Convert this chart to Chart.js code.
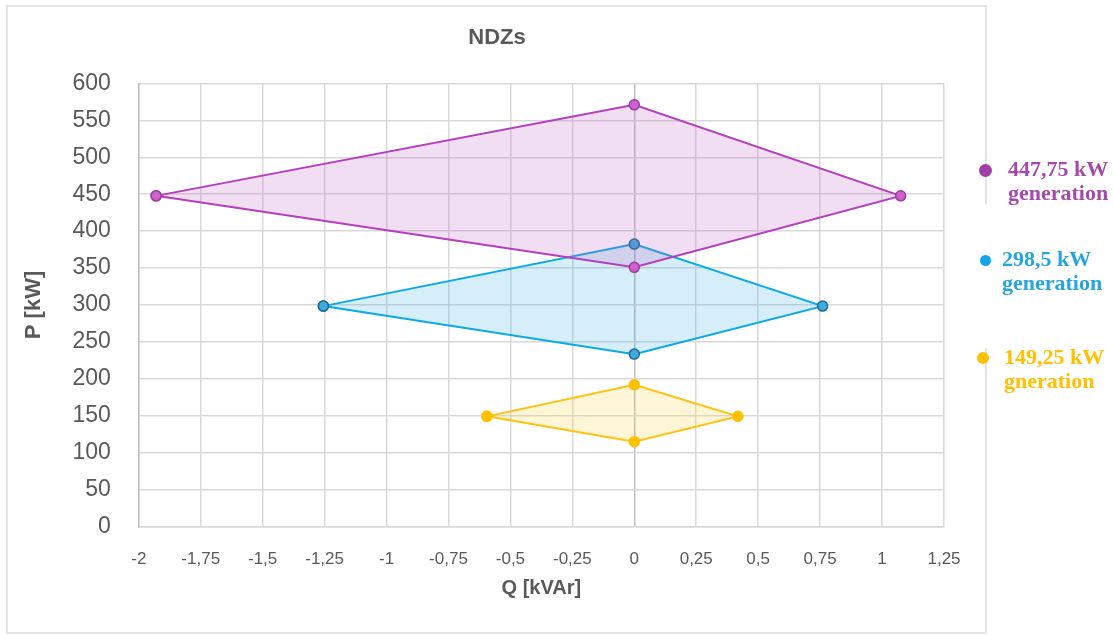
<!DOCTYPE html>
<html>
<head>
<meta charset="utf-8">
<script src="https://cdn.jsdelivr.net/npm/chart.js"></script>
<style>
  body { margin: 0; background: #fff; }
  #wrap { position: relative; width: 1114px; height: 635px; }
  #frame { position: absolute; left: 6px; top: 5px; width: 981px; height: 629px; box-sizing: border-box; border: 2px solid #E4E4E4; pointer-events: none; }
  #legend { position: absolute; left: 0; top: 0; width: 1114px; height: 635px; pointer-events: none; }
  .item { position: absolute; font-family: 'Liberation Serif', 'DejaVu Serif', serif; font-weight: bold; font-size: 22px; line-height: 24px; }
  .dot { position: absolute; border-radius: 50%; }
  #mask { position: absolute; left: 978px; top: 204px; width: 20px; height: 144px; background: #fff; }
</style>
</head>
<body>
<div id="wrap">
  <canvas id="myChart"></canvas>
  <div id="frame"></div>
  <div id="legend"><div id="mask"></div></div>
</div>
<script>
const scatterChart = document.getElementById('myChart');

// Q [kVAr] / P [kW] corners of each zone (left, top, right, bottom, back to left)
const qPurple = [-1.93, 0, 1.075, 0, -1.93];
const pPurple = [447.75, 571, 447.75, 351, 447.75];
const qBlue = [-1.255, 0, 0.76, 0, -1.255];
const pBlue = [298.5, 382.5, 298.5, 233.5, 298.5];
const qYellow = [-0.595, 0, 0.418, 0, -0.595];
const pYellow = [149.25, 192, 149.25, 115, 149.25];

const seriesNames = ['447,75 kW generation', '298,5 kW generation', '149,25 kW gneration'];
const qAxis = [-2, 1.25, 0.25];   // min, max, step
const pAxis = [0, 600, 50];

function toPoints(qs, ps) {
    var pts = [];
    for (var i = 0; i < qs.length; i++) {
        pts.push({ x: qs[i], y: ps[i] });
    }
    return pts;
}

function commaNum(v) {
    return String(Math.round(v * 100) / 100).replace('.', ',');
}

const grey = '#595959';

new Chart(scatterChart, {
    type: 'scatter',
    data: {
        datasets: [{
            label: seriesNames[0],
            data: toPoints(qPurple, pPurple),
            showLine: true,
            fill: 'shape',
            borderColor: '#B43EBE',
            backgroundColor: 'rgba(190, 90, 190, 0.2)',
            pointBackgroundColor: '#CC62CC',
            pointBorderColor: '#A03AA6',
            borderWidth: 2,
            pointRadius: 5,
            pointBorderWidth: 1.5
        }, {
            label: seriesNames[1],
            data: toPoints(qBlue, pBlue),
            showLine: true,
            fill: 'shape',
            borderColor: '#0AAAE8',
            backgroundColor: 'rgba(20, 160, 225, 0.18)',
            pointBackgroundColor: '#3FAADD',
            pointBorderColor: '#1E6890',
            borderWidth: 2,
            pointRadius: 5,
            pointBorderWidth: 1.5
        }, {
            label: seriesNames[2],
            data: toPoints(qYellow, pYellow),
            showLine: true,
            fill: 'shape',
            borderColor: '#FFC20E',
            backgroundColor: 'rgba(255, 195, 20, 0.17)',
            pointBackgroundColor: '#FFC000',
            pointBorderColor: '#FFC000',
            borderWidth: 2,
            pointRadius: 5,
            pointBorderWidth: 1.5
        }]
    },
    options: {
        responsive: true,
        maintainAspectRatio: false,
        animation: false,
        layout: {
            padding: { left: 50, right: 170, top: 12, bottom: 30 }
        },
        plugins: {
            legend: { display: false },
            tooltip: { enabled: false },
            title: {
                display: true,
                text: 'NDZs',
                color: grey,
                font: { family: 'Liberation Sans', size: 22, weight: 'bold' },
                padding: { top: 13, bottom: 32 }
            }
        },
        scales: {
            x: {
                type: 'linear',
                min: qAxis[0],
                max: qAxis[1],
                border: { color: '#D9D9D9', width: 1.5 },
                grid: {
                    drawTicks: false,
                    lineWidth: 1.5,
                    color: function (ctx) {
                        return ctx.tick && ctx.tick.value === 0 ? '#BFBFBF' : '#D9D9D9';
                    }
                },
                ticks: {
                    stepSize: qAxis[2],
                    padding: 23,
                    color: grey,
                    maxRotation: 0,
                    autoSkip: false,
                    font: { family: "'Liberation Sans Narrow', 'Liberation Sans', sans-serif", size: 17 },
                    callback: function (v) { return commaNum(v); }
                },
                title: {
                    display: true,
                    text: 'Q [kVAr]',
                    color: grey,
                    font: { family: "'Liberation Sans Narrow', 'Liberation Sans', sans-serif", size: 20, weight: 'bold' },
                    padding: { top: -17, bottom: 5 }
                }
            },
            y: {
                min: pAxis[0],
                max: pAxis[1],
                border: { color: '#BFBFBF', width: 1.5 },
                grid: { drawTicks: false, lineWidth: 1.5, color: '#D9D9D9' },
                ticks: {
                    stepSize: pAxis[2],
                    padding: 28,
                    color: grey,
                    font: { family: 'Liberation Sans', size: 23 }
                },
                title: {
                    display: true,
                    text: 'P [kW]',
                    color: grey,
                    font: { family: 'Liberation Sans', size: 22, weight: 'bold' },
                    padding: { top: -29, bottom: -3 }
                }
            }
        }
    }
});

// legend on the right, outside the frame, same look as the original
const legendSpots = [
    { dot: [985, 170, 13], text: [1008, 157], color: '#A64AAA', dotColor: '#A040A4' },
    { dot: [985, 260, 11], text: [1002, 247], color: '#27A5E0', dotColor: '#10A5E8' },
    { dot: [983, 358, 12], text: [1004, 345], color: '#FFC000', dotColor: '#FFC000' }
];
const legendBox = document.getElementById('legend');
for (var i = 0; i < seriesNames.length; i++) {
    var s = legendSpots[i];
    var d = document.createElement('div');
    d.className = 'dot';
    d.style.left = (s.dot[0] - s.dot[2] / 2) + 'px';
    d.style.top = (s.dot[1] - s.dot[2] / 2) + 'px';
    d.style.width = s.dot[2] + 'px';
    d.style.height = s.dot[2] + 'px';
    d.style.background = s.dotColor;
    legendBox.appendChild(d);

    var words = seriesNames[i].split(' ');
    var t = document.createElement('div');
    t.className = 'item';
    t.style.left = s.text[0] + 'px';
    t.style.top = s.text[1] + 'px';
    t.style.color = s.color;
    t.innerHTML = words[0] + ' ' + words[1] + '<br>' + words[2];
    legendBox.appendChild(t);
}
</script>
</body>
</html>
